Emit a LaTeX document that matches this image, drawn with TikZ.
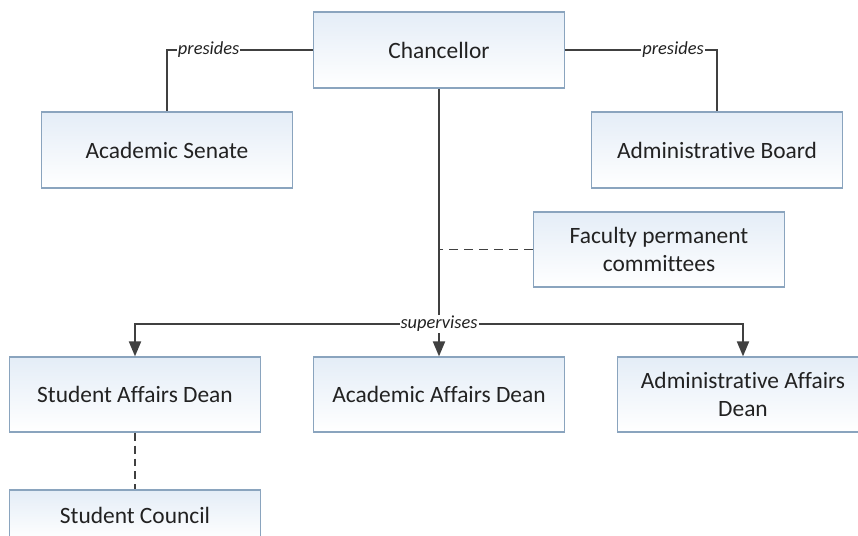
\documentclass[tikz,border=0pt]{standalone}
\usepackage{fontspec}
\setmainfont{Carlito}[Ligatures={NoCommon}]
\usetikzlibrary{arrows.meta}
\definecolor{boxborder}{HTML}{8AA4BE}
\definecolor{boxtop}{HTML}{E4EDF7}
\definecolor{linec}{HTML}{404040}
\definecolor{txt}{HTML}{222222}
\tikzset{
  orgbox/.style={draw=boxborder, line width=1.5pt, top color=boxtop, bottom color=white,
    minimum width=252pt, minimum height=76pt, inner sep=0pt, align=center,
    font=\fontsize{23.5}{28}\selectfont, text=txt},
  conn/.style={draw=linec, line width=2pt},
  arr/.style={conn, -{Triangle[length=15pt,width=12pt]}},
  dashconn/.style={conn, dash pattern=on 9pt off 6pt},
  lbl/.style={fill=white, inner sep=1pt, font=\fontsize{18.5}{20}\selectfont\itshape, text=txt}
}
\begin{document}
\begin{tikzpicture}[x=1bp,y=-1bp]
\useasboundingbox (0,0) rectangle (858,536);
\fill[white] (0,0) rectangle (858,536);
\node[orgbox] (ch) at (439,50) {Chancellor};
\node[orgbox] (as) at (167,150) {Academic Senate};
\node[orgbox] (ab) at (717,150) {Administrative Board};
\node[orgbox, minimum height=75pt] (fc) at (659,249.5) {Faculty permanent\\committees};
\node[orgbox, minimum height=75pt] (sad) at (135,394.5) {Student Affairs Dean};
\node[orgbox, minimum height=75pt] (aad) at (439,394.5) {Academic Affairs Dean};
\node[orgbox, minimum height=75pt] (adad) at (743,394.5) {Administrative Affairs\\Dean};
\node[orgbox, minimum height=50pt] (sc) at (135,515) {Student Council};
\coordinate (j) at (439,324);
\draw[conn] (ch.west) -| node[lbl, pos=0.357] {presides} (as.north);
\draw[conn] (ch.east) -| node[lbl, pos=0.355] {presides} (ab.north);
\draw[conn] (ch.south) -- (j);
\draw[dashconn] (fc.west) -- (fc.west -| ch.south);
\draw[arr] (j) -| (sad.north);
\draw[arr] (j) -| (adad.north);
\draw[arr] (j) -- (aad.north);
\node[lbl] (sup) at (j) {supervises};
\draw[dashconn, dash pattern=on 8pt off 5pt] (sad.south) -- (sc.north);
\end{tikzpicture}
\end{document}
